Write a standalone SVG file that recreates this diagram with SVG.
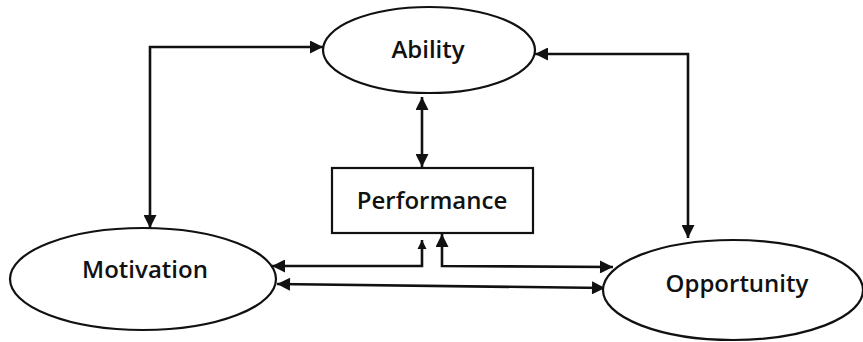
<svg xmlns="http://www.w3.org/2000/svg" width="863" height="342" viewBox="0 0 863 342">
<style>
.node{fill:#fff;stroke:#111;stroke-width:2.2}
.lbl{font-family:"Open Sans","Liberation Sans",sans-serif;font-weight:600;font-size:24px;fill:#111;text-anchor:middle}
.con{fill:none;stroke:#111;stroke-width:2.6}
</style>
<defs>
<marker id="ah" viewBox="0 0 10 10" refX="10" refY="5" markerWidth="5.5" markerHeight="5" markerUnits="strokeWidth" orient="auto-start-reverse">
<path d="M0,0 L10,5 L0,10 z" fill="#111"/>
</marker>
<marker id="ahs" viewBox="0 0 10 10" refX="10" refY="5" markerWidth="3.5" markerHeight="3.5" markerUnits="strokeWidth" orient="auto">
<path d="M0,0 L10,5 L0,10 z" fill="#111"/>
</marker>
</defs>
<rect width="863" height="342" fill="#fff"/>
<g id="connectors">
<path class="con" d="M150,228 L150,47 L323,47" marker-start="url(#ah)" marker-end="url(#ah)"/>
<path class="con" d="M535,54 L688,54 L688,238" marker-start="url(#ah)" marker-end="url(#ah)"/>
<path class="con" d="M422,97 L422,167" marker-start="url(#ah)" marker-end="url(#ah)"/>
<path class="con" d="M272,266 L422,266 L422,240" marker-start="url(#ah)" marker-end="url(#ahs)"/>
<path class="con" d="M442,234 L442,266 L613,267" marker-start="url(#ah)" marker-end="url(#ah)"/>
<path class="con" d="M277,284 L605,288" marker-start="url(#ah)" marker-end="url(#ah)"/>
</g>
<g id="ability">
<ellipse class="node" cx="429" cy="50" rx="106" ry="43"/>
<text class="lbl" x="428" y="58">Ability</text>
</g>
<g id="performance">
<rect class="node" x="332" y="168" width="201" height="65"/>
<text class="lbl" x="432" y="209">Performance</text>
</g>
<g id="motivation">
<ellipse class="node" cx="143" cy="279" rx="133" ry="51"/>
<text class="lbl" x="145" y="278">Motivation</text>
</g>
<g id="opportunity">
<ellipse class="node" cx="733" cy="290" rx="130" ry="50"/>
<text class="lbl" x="737" y="292">Opportunity</text>
</g>
</svg>
